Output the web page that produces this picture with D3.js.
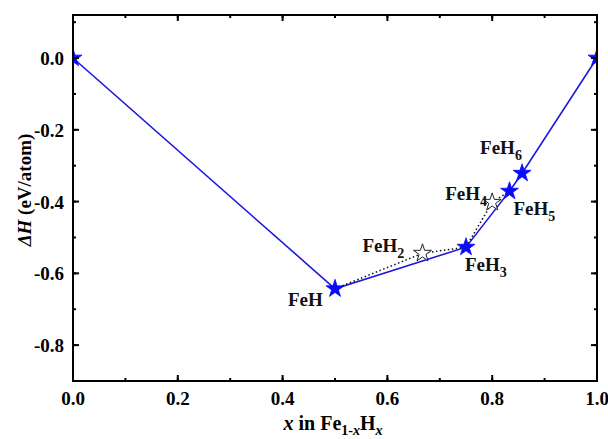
<!DOCTYPE html>
<html>
<head>
<meta charset="utf-8">
<script src="https://cdn.jsdelivr.net/npm/d3@7"></script>
<style>
body { margin: 0; background: #fff; }
text { font-family: "Liberation Serif", "Times New Roman", serif; font-weight: bold; }
</style>
</head>
<body>
<div id="plot1"></div>
<script>
// hull points (stable phases)
var hullX = [0, 0.5, 0.75, 0.833, 0.857, 1.0];
var hullY = [0, -0.643, -0.527, -0.371, -0.321, 0];
// metastable phases
var metaX = [0.667, 0.8];
var metaY = [-0.544, -0.402];
// dotted connections
var dot1X = [0.5, 0.667, 0.75];
var dot1Y = [-0.643, -0.544, -0.527];
var dot2X = [0.75, 0.8, 0.833];
var dot2Y = [-0.527, -0.402, -0.371];

var labels = [
    {base: "FeH", sub: "", x: 0.5, y: -0.643, dx: -47, dy: 17},
    {base: "FeH", sub: "2", x: 0.667, y: -0.544, dx: -60, dy: -1},
    {base: "FeH", sub: "3", x: 0.75, y: -0.527, dx: -1, dy: 24},
    {base: "FeH", sub: "4", x: 0.8, y: -0.402, dx: -47, dy: -2},
    {base: "FeH", sub: "5", x: 0.833, y: -0.371, dx: 4, dy: 24},
    {base: "FeH", sub: "6", x: 0.857, y: -0.321, dx: -42, dy: -19}
];

var xTicks = [0, 0.2, 0.4, 0.6, 0.8, 1.0];
var yTicks = [0, -0.2, -0.4, -0.6, -0.8];

var W = 608, H = 439;
var margin = {t: 15, r: 11, b: 58, l: 73};

var svg = d3.select('#plot1').append('svg')
    .attr('width', W).attr('height', H);

var x = d3.scaleLinear().domain([0, 1]).range([margin.l, W - margin.r]);
var y = d3.scaleLinear().domain([-0.9, 0.12]).range([H - margin.b, margin.t]);

svg.append('clipPath').attr('id', 'clip')
    .append('rect')
    .attr('x', x(0)).attr('y', y(0.12))
    .attr('width', x(1) - x(0)).attr('height', y(-0.9) - y(0.12));

var plot = svg.append('g').attr('clip-path', 'url(#clip)');

var line = d3.line().x(function(d){return x(d[0])}).y(function(d){return y(d[1])});

plot.append('path')
    .datum(d3.zip(hullX, hullY))
    .attr('d', line)
    .attr('fill', 'none')
    .attr('stroke', '#1a1adf')
    .attr('stroke-width', 1.6);

[[dot1X, dot1Y], [dot2X, dot2Y]].forEach(function(p){
    plot.append('path')
        .datum(d3.zip(p[0], p[1]))
        .attr('d', line)
        .attr('fill', 'none')
        .attr('stroke', '#111')
        .attr('stroke-width', 1.5)
        .attr('stroke-dasharray', '1.5,2.5');
});

var star = d3.symbol().type(d3.symbolStar);

plot.selectAll('.hull')
    .data(d3.zip(hullX, hullY))
    .enter().append('path')
    .attr('class', 'hull')
    .attr('d', star.size(100))
    .attr('transform', function(d){return 'translate(' + x(d[0]) + ',' + y(d[1]) + ')'})
    .attr('fill', '#0a0aff')
    .attr('stroke', '#0a0aff')
    .attr('stroke-width', 0.8);

plot.selectAll('.meta')
    .data(d3.zip(metaX, metaY))
    .enter().append('path')
    .attr('class', 'meta')
    .attr('d', star.size(100))
    .attr('transform', function(d){return 'translate(' + x(d[0]) + ',' + y(d[1]) + ')'})
    .attr('fill', '#fff')
    .attr('stroke', '#222')
    .attr('stroke-width', 1);

// labels
labels.forEach(function(d){
    var t = svg.append('text')
        .attr('x', x(d.x) + d.dx)
        .attr('y', y(d.y) + d.dy)
        .style('font-size', '19px')
        .attr('fill', '#111');
    t.append('tspan').text(d.base);
    if (d.sub) t.append('tspan').attr('dy', 6).style('font-size', '14px').text(d.sub);
});

// frame
svg.append('rect')
    .attr('x', x(0)).attr('y', y(0.12))
    .attr('width', x(1) - x(0)).attr('height', y(-0.9) - y(0.12))
    .attr('fill', 'none').attr('stroke', '#000').attr('stroke-width', 2);

// inward ticks on all four sides
var xMinor = d3.range(0, 1.01, 0.1);
var yMinor = d3.range(-0.9, 0.11, 0.1);

function ticks(vals, orient, len) {
    svg.append('g').selectAll('line').data(vals).enter().append('line')
        .attr('stroke', '#000').attr('stroke-width', 2)
        .each(function(v){
            var s = d3.select(this);
            if (orient === 'b') s.attr('x1', x(v)).attr('x2', x(v)).attr('y1', y(-0.9)).attr('y2', y(-0.9) - len);
            if (orient === 't') s.attr('x1', x(v)).attr('x2', x(v)).attr('y1', y(0.12)).attr('y2', y(0.12) + len);
            if (orient === 'l') s.attr('y1', y(v)).attr('y2', y(v)).attr('x1', x(0)).attr('x2', x(0) + len);
            if (orient === 'r') s.attr('y1', y(v)).attr('y2', y(v)).attr('x1', x(1)).attr('x2', x(1) - len);
        });
}
ticks(xTicks, 'b', 6);
ticks(xTicks, 't', 6);
ticks(xMinor, 'b', 3);
ticks(xMinor, 't', 3);
ticks(yTicks, 'l', 6);
ticks(yTicks, 'r', 6);
ticks(yMinor, 'l', 3);
ticks(yMinor, 'r', 3);

svg.append('g').selectAll('text').data(xTicks).enter().append('text')
    .attr('x', function(d){return x(d)})
    .attr('y', y(-0.9) + 24)
    .attr('text-anchor', 'middle')
    .style('font-size', '19px')
    .text(d3.format('.1f'));

svg.append('g').selectAll('text').data(yTicks).enter().append('text')
    .attr('x', x(0) - 9)
    .attr('y', function(d){return y(d) + 7})
    .attr('text-anchor', 'end')
    .style('font-size', '19px')
    .text(function(d){return d === 0 ? '0.0' : d3.format('.1f')(d).replace('−', '-')});

// axis titles
var xl = svg.append('text')
    .attr('x', 333).attr('y', 430)
    .attr('text-anchor', 'middle')
    .style('font-size', '20px');
xl.append('tspan').style('font-style', 'italic').text('x');
xl.append('tspan').text(' in Fe');
xl.append('tspan').attr('dy', 5).style('font-size', '14px').text('1-');
xl.append('tspan').style('font-size', '14px').style('font-style', 'italic').text('x');
xl.append('tspan').attr('dy', -5).text('H');
xl.append('tspan').attr('dy', 5).style('font-size', '14px').style('font-style', 'italic').text('x');

var yl = svg.append('text')
    .attr('transform', 'translate(31,190) rotate(-90)')
    .attr('text-anchor', 'middle')
    .style('font-size', '19px');
yl.append('tspan').style('font-style', 'italic').text('ΔH');
yl.append('tspan').text(' (eV/atom)');
</script>
</body>
</html>
